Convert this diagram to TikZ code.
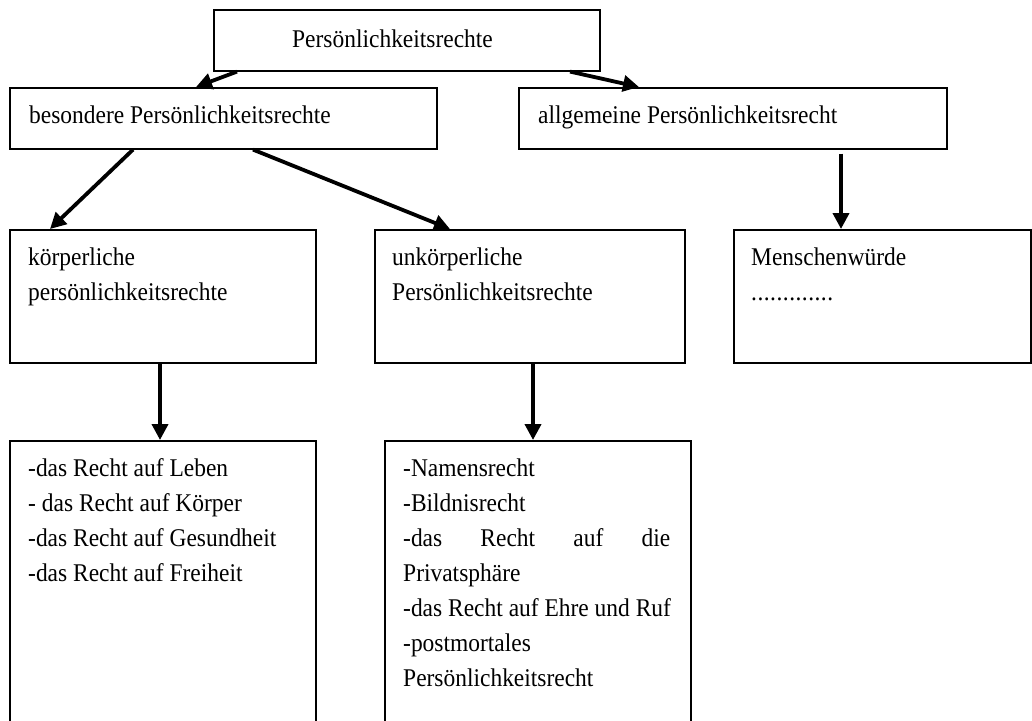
\documentclass[tikz,border=0pt]{standalone}
\usepackage{fontspec}
\setmainfont[FakeStretch=0.92]{Liberation Serif}
\usetikzlibrary{arrows.meta}
\begin{document}
\begin{tikzpicture}[x=1pt,y=-1pt,
  box/.style={draw=black, line width=1.6pt, rectangle, inner sep=0pt, anchor=north west},
  txt/.style={inner sep=0pt, anchor=base west, font=\fontsize{25.5pt}{30pt}\selectfont},
  conn/.style={line width=3.8pt, -{Triangle[length=16pt,width=16pt]}}]
\path[use as bounding box] (0,0) rectangle (1032,720);
\clip (0,0) rectangle (1032,720);
\fill[white] (0,0) rectangle (1032,720);
% boxes
\node[box, minimum width=386pt, minimum height=61pt] (top) at (213,9) {};
\node[box, minimum width=427pt, minimum height=61pt] (bes) at (9,87) {};
\node[box, minimum width=428pt, minimum height=61pt] (allg) at (518,87) {};
\node[box, minimum width=306pt, minimum height=133pt] (koer) at (9,229) {};
\node[box, minimum width=310pt, minimum height=133pt] (unk) at (374,229) {};
\node[box, minimum width=297pt, minimum height=133pt] (men) at (733,229) {};
\node[box, minimum width=306pt, minimum height=300pt] (bl) at (9,440) {};
\node[box, minimum width=306pt, minimum height=300pt] (bm) at (384,440) {};
% texts
\node[txt] (t1) at (292,47) {Persönlichkeitsrechte};
\node[txt] (t2) at (29,123) {besondere Persönlichkeitsrechte};
\node[txt] (t3) at (538,123) {allgemeine Persönlichkeitsrecht};
\node[txt] (t4a) at (28,265) {körperliche};
\node[txt] (t4b) at (28,300) {persönlichkeitsrechte};
\node[txt] (t5a) at (392,265) {unkörperliche};
\node[txt] (t5b) at (392,300) {Persönlichkeitsrechte};
\node[txt] (t6a) at (751,265) {Menschenwürde};
\node[txt] (t6b) at (751,300) {\makebox[82pt][s]{.\hfill.\hfill.\hfill.\hfill.\hfill.\hfill.\hfill.\hfill.\hfill.\hfill.\hfill.\hfill.}};
\node[txt] (l1) at (28,476) {-das Recht auf Leben};
\node[txt] (l2) at (28,511) {- das Recht auf Körper};
\node[txt] (l3) at (28,546) {-das Recht auf Gesundheit};
\node[txt] (l4) at (28,581) {-das Recht auf Freiheit};
\node[txt] (m1) at (403,476) {-Namensrecht};
\node[txt] (m2) at (403,511) {-Bildnisrecht};
\node[txt] (m3) at (403,546) {\makebox[267pt][s]{-das\hfill Recht\hfill auf\hfill die}};
\node[txt] (m4) at (403,581) {Privatsphäre};
\node[txt] (m5) at (403,616) {-das Recht auf Ehre und Ruf};
\node[txt] (m6) at (403,651) {-postmortales};
\node[txt] (m7) at (403,686) {Persönlichkeitsrecht};
% connectors
\draw[conn] ([xshift=24pt]top.south west) -- ([xshift=187pt]bes.north west);
\draw[conn] ([xshift=357pt]top.south west) -- ([xshift=121pt]allg.north west);
\draw[conn] ([xshift=124pt]bes.south west) -- ([xshift=41pt]koer.north west);
\draw[conn] ([xshift=244pt]bes.south west) -- ([xshift=76pt]unk.north west);
\draw[conn] ([xshift=323pt,yshift=-4pt]allg.south west) -- ([xshift=108pt]men.north west);
\draw[conn] ([xshift=151pt]koer.south west) -- ([xshift=151pt]bl.north west);
\draw[conn] ([xshift=159pt]unk.south west) -- ([xshift=149pt]bm.north west);
\end{tikzpicture}
\end{document}
